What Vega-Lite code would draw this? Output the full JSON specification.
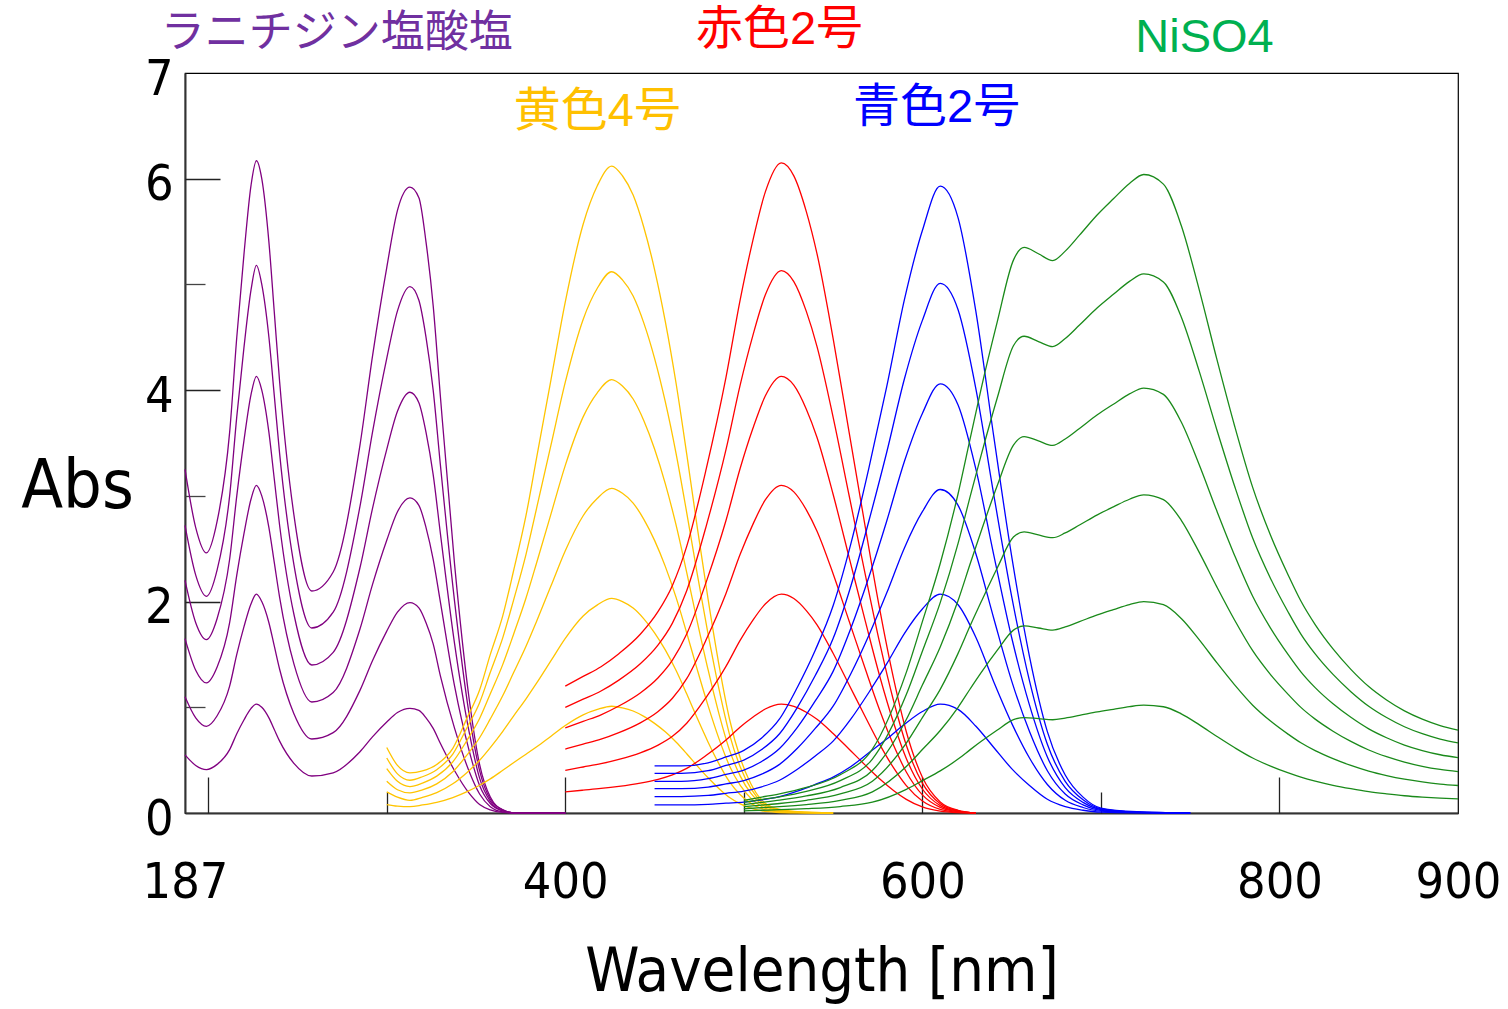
{
  "$schema": "https://vega.github.io/schema/vega-lite/v6.json",
  "width": 1273,
  "height": 740,
  "autosize": {"type": "none"},
  "padding": {"left": 185, "top": 73, "right": 50, "bottom": 196},
  "background": "white",
  "config": {
    "font": "DejaVu Sans Condensed, Liberation Sans Narrow, Liberation Sans, sans-serif",
    "view": {"stroke": "#000", "strokeWidth": 1.2},
    "axis": {"grid": false, "labelColor": "#000", "titleColor": "#000", "titleFontWeight": "normal"}
  },
  "datasets": {
    "purple": [
      {"x":187,"a":0.55,"b":1.1,"c":1.65,"d":2.2,"e":2.72,"f":3.25},
      {"x":193,"a":0.45,"b":0.9,"c":1.35,"d":1.8,"e":2.25,"f":2.7},
      {"x":199,"a":0.41,"b":0.82,"c":1.23,"d":1.64,"e":2.05,"f":2.46},
      {"x":205,"a":0.46,"b":0.92,"c":1.38,"d":1.84,"e":2.3,"f":2.76},
      {"x":212,"a":0.6,"b":1.2,"c":1.8,"d":2.4,"e":3.0,"f":3.6},
      {"x":216,"a":0.75,"b":1.5,"c":2.25,"d":3.0,"e":3.75,"f":4.5},
      {"x":220,"a":0.88,"b":1.76,"c":2.64,"d":3.52,"e":4.4,"f":5.28},
      {"x":224,"a":0.99,"b":1.98,"c":2.97,"d":3.96,"e":4.95,"f":5.94},
      {"x":227,"a":1.03,"b":2.07,"c":3.1,"d":4.13,"e":5.18,"f":6.17},
      {"x":230,"a":1.0,"b":2.0,"c":3.0,"d":4.0,"e":5.0,"f":6.0},
      {"x":234,"a":0.9,"b":1.8,"c":2.7,"d":3.6,"e":4.5,"f":5.4},
      {"x":237,"a":0.79,"b":1.58,"c":2.37,"d":3.16,"e":3.95,"f":4.74},
      {"x":240,"a":0.68,"b":1.36,"c":2.04,"d":2.72,"e":3.4,"f":4.08},
      {"x":248,"a":0.47,"b":0.94,"c":1.41,"d":1.88,"e":2.35,"f":2.82},
      {"x":258,"a":0.35,"b":0.7,"c":1.05,"d":1.4,"e":1.75,"f":2.1},
      {"x":270,"a":0.38,"b":0.76,"c":1.14,"d":1.52,"e":1.9,"f":2.28},
      {"x":285,"a":0.58,"b":1.16,"c":1.74,"d":2.32,"e":2.9,"f":3.48},
      {"x":292,"a":0.72,"b":1.44,"c":2.16,"d":2.88,"e":3.6,"f":4.32},
      {"x":300,"a":0.86,"b":1.72,"c":2.58,"d":3.44,"e":4.3,"f":5.16},
      {"x":306,"a":0.95,"b":1.9,"c":2.85,"d":3.8,"e":4.75,"f":5.7},
      {"x":313,"a":0.99,"b":1.99,"c":2.98,"d":3.98,"e":4.98,"f":5.92},
      {"x":318,"a":0.97,"b":1.94,"c":2.91,"d":3.88,"e":4.85,"f":5.82},
      {"x":322,"a":0.9,"b":1.8,"c":2.7,"d":3.6,"e":4.5,"f":5.4},
      {"x":326,"a":0.8,"b":1.6,"c":2.4,"d":3.2,"e":4.0,"f":4.8},
      {"x":330,"a":0.66,"b":1.3,"c":2.0,"d":2.65,"e":3.3,"f":3.95},
      {"x":338,"a":0.4,"b":0.8,"c":1.2,"d":1.6,"e":2.0,"f":2.35},
      {"x":346,"a":0.19,"b":0.4,"c":0.6,"d":0.78,"e":0.95,"f":1.1},
      {"x":352,"a":0.08,"b":0.18,"c":0.26,"d":0.33,"e":0.4,"f":0.46},
      {"x":358,"a":0.03,"b":0.06,"c":0.09,"d":0.11,"e":0.13,"f":0.15},
      {"x":365,"a":0.005,"b":0.01,"c":0.02,"d":0.02,"e":0.03,"f":0.03},
      {"x":372,"a":0,"b":0,"c":0,"d":0,"e":0,"f":0},
      {"x":400,"a":0,"b":0,"c":0,"d":0,"e":0,"f":0}
    ],
    "yellow": [
      {"x":300,"a":0.08,"b":0.2,"c":0.3,"d":0.42,"e":0.52,"f":0.62},
      {"x":306,"a":0.065,"b":0.15,"c":0.22,"d":0.3,"e":0.37,"f":0.45},
      {"x":313,"a":0.06,"b":0.12,"c":0.19,"d":0.25,"e":0.31,"f":0.38},
      {"x":320,"a":0.076,"b":0.148,"c":0.218,"d":0.283,"e":0.343,"f":0.398},
      {"x":328,"a":0.101,"b":0.193,"c":0.276,"d":0.349,"e":0.41,"f":0.459},
      {"x":337,"a":0.146,"b":0.276,"c":0.39,"d":0.484,"e":0.558,"f":0.612},
      {"x":345,"a":0.202,"b":0.384,"c":0.55,"d":0.689,"e":0.809,"f":0.9},
      {"x":352,"a":0.263,"b":0.499,"c":0.712,"d":0.894,"e":1.044,"f":1.163},
      {"x":358,"a":0.323,"b":0.619,"c":0.89,"d":1.128,"e":1.331,"f":1.5},
      {"x":365,"a":0.404,"b":0.773,"c":1.111,"d":1.406,"e":1.659,"f":1.867},
      {"x":371,"a":0.475,"b":0.916,"c":1.326,"d":1.689,"e":2.012,"f":2.289},
      {"x":378,"a":0.556,"b":1.08,"c":1.578,"d":2.034,"e":2.447,"f":2.815},
      {"x":384,"a":0.626,"b":1.23,"c":1.817,"d":2.37,"e":2.888,"f":3.366},
      {"x":392,"a":0.727,"b":1.441,"c":2.149,"d":2.829,"e":3.482,"f":4.1},
      {"x":400,"a":0.828,"b":1.652,"c":2.481,"d":3.288,"e":4.075,"f":4.835},
      {"x":410,"a":0.929,"b":1.864,"c":2.812,"d":3.747,"e":4.669,"f":5.569},
      {"x":418,"a":0.98,"b":1.969,"c":2.978,"d":3.977,"e":4.966,"f":5.936},
      {"x":426,"a":1.01,"b":2.03,"c":3.07,"d":4.1,"e":5.12,"f":6.12},
      {"x":432,"a":0.995,"b":2.0,"c":3.024,"d":4.039,"e":5.043,"f":6.028},
      {"x":438,"a":0.965,"b":1.939,"c":2.932,"d":3.916,"e":4.89,"f":5.845},
      {"x":444,"a":0.914,"b":1.837,"c":2.778,"d":3.711,"e":4.634,"f":5.539},
      {"x":450,"a":0.848,"b":1.705,"c":2.579,"d":3.444,"e":4.301,"f":5.141},
      {"x":456,"a":0.768,"b":1.543,"c":2.333,"d":3.116,"e":3.891,"f":4.651},
      {"x":462,"a":0.672,"b":1.35,"c":2.042,"d":2.727,"e":3.405,"f":4.07},
      {"x":468,"a":0.561,"b":1.127,"c":1.704,"d":2.276,"e":2.842,"f":3.397},
      {"x":474,"a":0.444,"b":0.893,"c":1.351,"d":1.804,"e":2.253,"f":2.693},
      {"x":480,"a":0.333,"b":0.67,"c":1.013,"d":1.353,"e":1.69,"f":2.02},
      {"x":486,"a":0.232,"b":0.467,"c":0.706,"d":0.943,"e":1.178,"f":1.408},
      {"x":492,"a":0.146,"b":0.294,"c":0.445,"d":0.595,"e":0.742,"f":0.887},
      {"x":498,"a":0.086,"b":0.173,"c":0.261,"d":0.349,"e":0.435,"f":0.52},
      {"x":504,"a":0.045,"b":0.091,"c":0.138,"d":0.185,"e":0.23,"f":0.275},
      {"x":510,"a":0.02,"b":0.041,"c":0.061,"d":0.082,"e":0.102,"f":0.122},
      {"x":518,"a":0.007,"b":0.014,"c":0.021,"d":0.029,"e":0.036,"f":0.043},
      {"x":530,"a":0.002,"b":0.004,"c":0.006,"d":0.008,"e":0.01,"f":0.012},
      {"x":550,"a":0,"b":0,"c":0,"d":0,"e":0,"f":0}
    ],
    "red": [
      {"x":400,"a":0.2,"b":0.404,"c":0.605,"d":0.805,"e":1.0,"f":1.2},
      {"x":410,"a":0.216,"b":0.435,"c":0.651,"d":0.867,"e":1.077,"f":1.292},
      {"x":420,"a":0.232,"b":0.466,"c":0.698,"d":0.929,"e":1.154,"f":1.384},
      {"x":430,"a":0.252,"b":0.507,"c":0.76,"d":1.012,"e":1.257,"f":1.507},
      {"x":442,"a":0.283,"b":0.569,"c":0.853,"d":1.136,"e":1.411,"f":1.691},
      {"x":452,"a":0.319,"b":0.642,"c":0.961,"d":1.28,"e":1.59,"f":1.907},
      {"x":460,"a":0.361,"b":0.725,"c":1.085,"d":1.446,"e":1.796,"f":2.153},
      {"x":468,"a":0.422,"b":0.849,"c":1.271,"d":1.693,"e":2.103,"f":2.522},
      {"x":479,"a":0.546,"b":1.097,"c":1.643,"d":2.189,"e":2.719,"f":3.26},
      {"x":490,"a":0.69,"b":1.387,"c":2.077,"d":2.767,"e":3.437,"f":4.121},
      {"x":498,"a":0.814,"b":1.635,"c":2.449,"d":3.263,"e":4.053,"f":4.859},
      {"x":505,"a":0.906,"b":1.822,"c":2.728,"d":3.634,"e":4.514,"f":5.412},
      {"x":512,"a":0.984,"b":1.977,"c":2.961,"d":3.944,"e":4.899,"f":5.873},
      {"x":521,"a":1.03,"b":2.07,"c":3.1,"d":4.13,"e":5.13,"f":6.15},
      {"x":528,"a":1.009,"b":2.029,"c":3.038,"d":4.047,"e":5.027,"f":6.027},
      {"x":535,"a":0.953,"b":1.915,"c":2.868,"d":3.82,"e":4.745,"f":5.689},
      {"x":541,"a":0.886,"b":1.78,"c":2.666,"d":3.552,"e":4.412,"f":5.289},
      {"x":550,"a":0.752,"b":1.511,"c":2.263,"d":3.015,"e":3.745,"f":4.49},
      {"x":559,"a":0.603,"b":1.211,"c":1.814,"d":2.416,"e":3.001,"f":3.598},
      {"x":568,"a":0.453,"b":0.911,"c":1.364,"d":1.817,"e":2.257,"f":2.706},
      {"x":576,"a":0.324,"b":0.652,"c":0.977,"d":1.301,"e":1.616,"f":1.937},
      {"x":584,"a":0.211,"b":0.424,"c":0.636,"d":0.847,"e":1.052,"f":1.261},
      {"x":591,"a":0.129,"b":0.259,"c":0.388,"d":0.516,"e":0.641,"f":0.769},
      {"x":600,"a":0.057,"b":0.114,"c":0.171,"d":0.227,"e":0.282,"f":0.338},
      {"x":610,"a":0.018,"b":0.035,"c":0.053,"d":0.07,"e":0.087,"f":0.105},
      {"x":620,"a":0.004,"b":0.008,"c":0.012,"d":0.017,"e":0.021,"f":0.025},
      {"x":630,"a":0,"b":0,"c":0,"d":0,"e":0,"f":0}
    ],
    "blue": [
      {"x":450,"a":0.077,"b":0.155,"c":0.23,"d":0.3,"e":0.375,"f":0.445},
      {"x":465,"a":0.077,"b":0.155,"c":0.23,"d":0.3,"e":0.375,"f":0.445},
      {"x":480,"a":0.082,"b":0.166,"c":0.245,"d":0.325,"e":0.4,"f":0.475},
      {"x":490,"a":0.093,"b":0.186,"c":0.275,"d":0.365,"e":0.45,"f":0.53},
      {"x":500,"a":0.103,"b":0.207,"c":0.306,"d":0.406,"e":0.5,"f":0.593},
      {"x":510,"a":0.124,"b":0.248,"c":0.367,"d":0.487,"e":0.6,"f":0.71},
      {"x":520,"a":0.155,"b":0.31,"c":0.46,"d":0.61,"e":0.75,"f":0.89},
      {"x":530,"a":0.206,"b":0.414,"c":0.612,"d":0.81,"e":1.0,"f":1.19},
      {"x":540,"a":0.27,"b":0.54,"c":0.8,"d":1.06,"e":1.3,"f":1.54},
      {"x":550,"a":0.34,"b":0.68,"c":1.01,"d":1.34,"e":1.65,"f":1.96},
      {"x":560,"a":0.44,"b":0.89,"c":1.32,"d":1.75,"e":2.15,"f":2.55},
      {"x":570,"a":0.57,"b":1.14,"c":1.68,"d":2.23,"e":2.76,"f":3.26},
      {"x":580,"a":0.7,"b":1.41,"c":2.08,"d":2.76,"e":3.41,"f":4.03},
      {"x":590,"a":0.84,"b":1.7,"c":2.51,"d":3.33,"e":4.11,"f":4.86},
      {"x":600,"a":0.96,"b":1.93,"c":2.85,"d":3.78,"e":4.66,"f":5.51},
      {"x":610,"a":1.03,"b":2.07,"c":3.06,"d":4.06,"e":5.01,"f":5.93},
      {"x":620,"a":0.98,"b":1.97,"c":2.91,"d":3.86,"e":4.76,"f":5.63},
      {"x":630,"a":0.82,"b":1.66,"c":2.45,"d":3.25,"e":4.01,"f":4.74},
      {"x":640,"a":0.62,"b":1.24,"c":1.84,"d":2.44,"e":3.01,"f":3.56},
      {"x":650,"a":0.42,"b":0.85,"c":1.25,"d":1.66,"e":2.05,"f":2.43},
      {"x":660,"a":0.26,"b":0.52,"c":0.77,"d":1.02,"e":1.25,"f":1.48},
      {"x":670,"a":0.13,"b":0.27,"c":0.4,"d":0.53,"e":0.65,"f":0.77},
      {"x":680,"a":0.06,"b":0.12,"c":0.18,"d":0.24,"e":0.3,"f":0.36},
      {"x":690,"a":0.026,"b":0.052,"c":0.077,"d":0.1,"e":0.125,"f":0.15},
      {"x":700,"a":0.008,"b":0.017,"c":0.025,"d":0.033,"e":0.04,"f":0.047},
      {"x":720,"a":0.002,"b":0.004,"c":0.006,"d":0.008,"e":0.01,"f":0.012},
      {"x":750,"a":0,"b":0,"c":0,"d":0,"e":0,"f":0}
    ],
    "green": [
      {"x":500,"a":0.02,"b":0.04,"c":0.06,"d":0.08,"e":0.1,"f":0.12},
      {"x":510,"a":0.026,"b":0.05,"c":0.075,"d":0.1,"e":0.128,"f":0.151},
      {"x":520,"a":0.031,"b":0.06,"c":0.09,"d":0.121,"e":0.153,"f":0.181},
      {"x":535,"a":0.041,"b":0.08,"c":0.12,"d":0.161,"e":0.204,"f":0.242},
      {"x":554,"a":0.061,"b":0.12,"c":0.181,"d":0.241,"e":0.306,"f":0.362},
      {"x":572,"a":0.102,"b":0.2,"c":0.301,"d":0.402,"e":0.51,"f":0.604},
      {"x":591,"a":0.224,"b":0.44,"c":0.662,"d":0.884,"e":1.12,"f":1.33},
      {"x":600,"a":0.306,"b":0.6,"c":0.903,"d":1.21,"e":1.53,"f":1.81},
      {"x":610,"a":0.398,"b":0.78,"c":1.17,"d":1.57,"e":1.99,"f":2.36},
      {"x":620,"a":0.51,"b":1.0,"c":1.51,"d":2.01,"e":2.55,"f":3.02},
      {"x":627,"a":0.602,"b":1.18,"c":1.78,"d":2.37,"e":3.01,"f":3.56},
      {"x":633,"a":0.678,"b":1.33,"c":2.0,"d":2.67,"e":3.39,"f":4.02},
      {"x":642,"a":0.785,"b":1.54,"c":2.32,"d":3.1,"e":3.93,"f":4.65},
      {"x":651,"a":0.883,"b":1.73,"c":2.61,"d":3.48,"e":4.42,"f":5.23},
      {"x":657,"a":0.903,"b":1.77,"c":2.66,"d":3.56,"e":4.51,"f":5.35},
      {"x":665,"a":0.893,"b":1.75,"c":2.63,"d":3.52,"e":4.46,"f":5.29},
      {"x":673,"a":0.882,"b":1.73,"c":2.604,"d":3.477,"e":4.412,"f":5.225},
      {"x":680,"a":0.898,"b":1.76,"c":2.649,"d":3.538,"e":4.488,"f":5.315},
      {"x":688,"a":0.923,"b":1.81,"c":2.724,"d":3.638,"e":4.616,"f":5.466},
      {"x":698,"a":0.956,"b":1.874,"c":2.82,"d":3.767,"e":4.779,"f":5.659},
      {"x":707,"a":0.981,"b":1.924,"c":2.896,"d":3.867,"e":4.906,"f":5.81},
      {"x":716,"a":1.006,"b":1.972,"c":2.968,"d":3.964,"e":5.029,"f":5.955},
      {"x":724,"a":1.02,"b":2.0,"c":3.01,"d":4.02,"e":5.1,"f":6.04},
      {"x":735,"a":1.005,"b":1.97,"c":2.965,"d":3.96,"e":5.024,"f":5.949},
      {"x":745,"a":0.938,"b":1.84,"c":2.769,"d":3.698,"e":4.692,"f":5.557},
      {"x":755,"a":0.836,"b":1.64,"c":2.468,"d":3.296,"e":4.182,"f":4.953},
      {"x":765,"a":0.724,"b":1.42,"c":2.137,"d":2.854,"e":3.621,"f":4.288},
      {"x":775,"a":0.617,"b":1.21,"c":1.821,"d":2.432,"e":3.086,"f":3.654},
      {"x":785,"a":0.52,"b":1.02,"c":1.535,"d":2.05,"e":2.601,"f":3.08},
      {"x":795,"a":0.444,"b":0.87,"c":1.309,"d":1.749,"e":2.219,"f":2.627},
      {"x":805,"a":0.379,"b":0.744,"c":1.12,"d":1.495,"e":1.897,"f":2.247},
      {"x":812,"a":0.339,"b":0.664,"c":0.999,"d":1.335,"e":1.693,"f":2.005},
      {"x":820,"a":0.301,"b":0.59,"c":0.888,"d":1.186,"e":1.505,"f":1.782},
      {"x":830,"a":0.262,"b":0.514,"c":0.774,"d":1.033,"e":1.311,"f":1.552},
      {"x":840,"a":0.23,"b":0.45,"c":0.677,"d":0.905,"e":1.148,"f":1.359},
      {"x":850,"a":0.202,"b":0.396,"c":0.596,"d":0.796,"e":1.01,"f":1.196},
      {"x":860,"a":0.181,"b":0.354,"c":0.533,"d":0.712,"e":0.903,"f":1.069},
      {"x":870,"a":0.163,"b":0.32,"c":0.482,"d":0.643,"e":0.816,"f":0.966},
      {"x":880,"a":0.15,"b":0.294,"c":0.442,"d":0.591,"e":0.75,"f":0.888},
      {"x":890,"a":0.14,"b":0.274,"c":0.412,"d":0.551,"e":0.699,"f":0.827},
      {"x":900,"a":0.133,"b":0.26,"c":0.391,"d":0.523,"e":0.663,"f":0.785}
    ]
  },
  "resolve": {"axis": {"x": "independent", "y": "independent"}},
  "layer": [
    {
      "data": {"name": "purple"},
      "transform": [{"fold": ["a","b","c","d","e","f"], "as": ["k","v"]}],
      "mark": {"type": "line", "color": "#800080", "strokeWidth": 1.3, "interpolate": "monotone"},
      "encoding": {
        "x": {"field": "x", "type": "quantitative", "scale": {"domain": [187, 900], "nice": false, "zero": false},
          "axis": {"orient": "bottom", "values": [187, 400, 600, 800, 900], "ticks": false, "domain": true, "domainColor": "#333", "domainWidth": 2,
            "labelFontSize": 50, "labelPadding": 44, "labelFlush": false, "labelOverlap": false,
            "title": "Wavelength [nm]", "titleFontSize": 61, "titleY": 177, "titleBaseline": "alphabetic"}},
        "y": {"field": "v", "type": "quantitative", "scale": {"domain": [0, 7], "nice": false, "zero": false},
          "axis": {"orient": "left", "values": [0, 2, 4, 6, 7], "ticks": false, "domain": true, "domainColor": "#333", "domainWidth": 2,
            "labelFontSize": 50, "labelPadding": 12, "labelFlush": false, "labelOverlap": false, "labelBaseline": "middle", "labelOffset": 6,
            "title": "Abs", "titleAngle": 0, "titleFontSize": 68, "titleX": -108, "titleY": 414, "titleAlign": "center", "titleBaseline": "middle"}},
        "detail": {"field": "k", "type": "nominal"}
      }
    },
    {
      "data": {"name": "yellow"},
      "transform": [{"fold": ["a","b","c","d","e","f"], "as": ["k","v"]}],
      "mark": {"type": "line", "color": "#FFC400", "strokeWidth": 1.3, "interpolate": "monotone"},
      "encoding": {
        "x": {"field": "x", "type": "quantitative", "scale": {"domain": [187, 900], "nice": false, "zero": false},
          "axis": {"orient": "bottom", "values": [200, 400, 600, 800], "labels": false, "domain": false, "tickSize": -36, "tickColor": "#222", "tickWidth": 1.3, "title": null}},
        "y": {"field": "v", "type": "quantitative", "scale": {"domain": [0, 7], "nice": false, "zero": false},
          "axis": {"orient": "left", "values": [2, 4, 6], "labels": false, "domain": false, "tickSize": -35, "tickColor": "#222", "tickWidth": 1.3, "title": null}},
        "detail": {"field": "k", "type": "nominal"}
      }
    },
    {
      "data": {"name": "red"},
      "transform": [{"fold": ["a","b","c","d","e","f"], "as": ["k","v"]}],
      "mark": {"type": "line", "color": "#FF0000", "strokeWidth": 1.3, "interpolate": "monotone"},
      "encoding": {
        "x": {"field": "x", "type": "quantitative", "scale": {"domain": [187, 900], "nice": false, "zero": false},
          "axis": {"orient": "bottom", "values": [300, 500, 700], "labels": false, "domain": false, "tickSize": -21, "tickColor": "#222", "tickWidth": 1.3, "title": null}},
        "y": {"field": "v", "type": "quantitative", "scale": {"domain": [0, 7], "nice": false, "zero": false},
          "axis": {"orient": "left", "values": [1, 3, 5], "labels": false, "domain": false, "tickSize": -20, "tickColor": "#444", "tickWidth": 1.3, "title": null}},
        "detail": {"field": "k", "type": "nominal"}
      }
    },
    {
      "data": {"name": "blue"},
      "transform": [{"fold": ["a","b","c","d","e","f"], "as": ["k","v"]}],
      "mark": {"type": "line", "color": "#0000FF", "strokeWidth": 1.3, "interpolate": "monotone"},
      "encoding": {
        "x": {"field": "x", "type": "quantitative", "scale": {"domain": [187, 900], "nice": false, "zero": false}, "axis": null},
        "y": {"field": "v", "type": "quantitative", "scale": {"domain": [0, 7], "nice": false, "zero": false}, "axis": null},
        "detail": {"field": "k", "type": "nominal"}
      }
    },
    {
      "data": {"name": "green"},
      "transform": [{"fold": ["a","b","c","d","e","f"], "as": ["k","v"]}],
      "mark": {"type": "line", "color": "#1A8A1A", "strokeWidth": 1.3, "interpolate": "monotone"},
      "encoding": {
        "x": {"field": "x", "type": "quantitative", "scale": {"domain": [187, 900], "nice": false, "zero": false}, "axis": null},
        "y": {"field": "v", "type": "quantitative", "scale": {"domain": [0, 7], "nice": false, "zero": false}, "axis": null},
        "detail": {"field": "k", "type": "nominal"}
      }
    },
    {
      "data": {"values": [
        {"t": "ラニチジン塩酸塩", "x": 272, "y": 7.37}
      ]},
      "mark": {"type": "text", "font": "Liberation Sans, Noto Sans CJK JP", "fontSize": 44, "align": "center", "baseline": "middle", "color": "#7030A0"},
      "encoding": {
        "x": {"field": "x", "type": "quantitative", "scale": {"domain": [187, 900], "nice": false, "zero": false}, "axis": null},
        "y": {"field": "y", "type": "quantitative", "scale": {"domain": [0, 7], "nice": false, "zero": false}, "axis": null},
        "text": {"field": "t"}
      }
    },
    {
      "data": {"values": [
        {"t": "赤色2号", "g": "r", "x": 520, "y": 7.41},
        {"t": "NiSO4", "g": "n", "x": 758, "y": 7.33},
        {"t": "黄色4号", "g": "y", "x": 418, "y": 6.63},
        {"t": "青色2号", "g": "b", "x": 608, "y": 6.67}
      ]},
      "mark": {"type": "text", "font": "Liberation Sans, Noto Sans CJK JP", "fontSize": 47, "align": "center", "baseline": "middle"},
      "encoding": {
        "x": {"field": "x", "type": "quantitative", "scale": {"domain": [187, 900], "nice": false, "zero": false}, "axis": null},
        "y": {"field": "y", "type": "quantitative", "scale": {"domain": [0, 7], "nice": false, "zero": false}, "axis": null},
        "text": {"field": "t"},
        "color": {"field": "g", "type": "nominal", "scale": {"domain": ["r", "n", "y", "b"], "range": ["#FF0000", "#00B050", "#FFC000", "#0000FF"]}, "legend": null}
      }
    }
  ]
}
